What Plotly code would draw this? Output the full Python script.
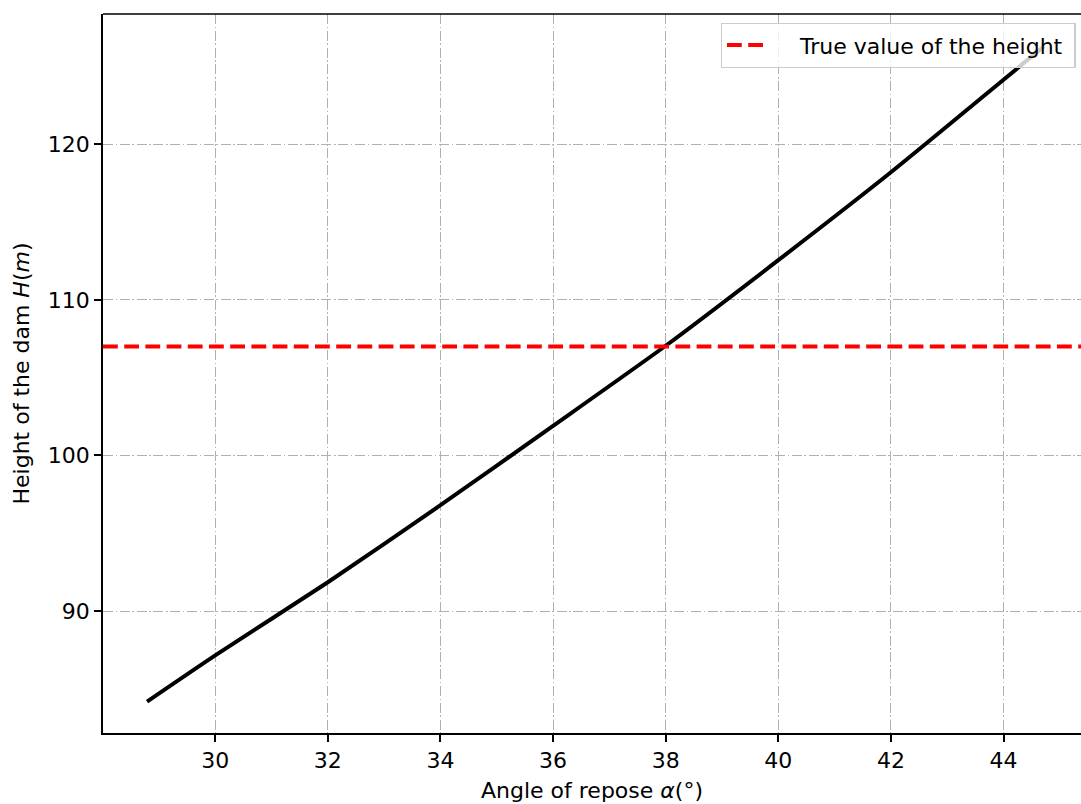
import plotly.graph_objects as go

# Data
alpha_deg = [28.79, 30.0, 32.0, 34.0, 36.0, 38.0, 40.0, 42.0, 44.0, 44.72]
height_m = [84.18, 87.15, 91.85, 96.8, 101.9, 107.05, 112.55, 118.2, 124.15, 126.3]
true_height = 107.0
x_ticks = [30, 32, 34, 36, 38, 40, 42, 44]
y_ticks = [90, 100, 110, 120]

W, H = 1081, 804
ML, MR, MT, MB = 103, 0, 14, 71
FONT = "DejaVu Sans"
FS = 22

fig = go.Figure()
fig.add_trace(go.Scatter(
    x=alpha_deg, y=height_m, mode="lines",
    line=dict(color="black", width=4, shape="spline", smoothing=0.6),
    showlegend=False, hoverinfo="skip",
))
fig.add_hline(
    y=true_height,
    line=dict(color="red", width=4, dash="14.8px,6.4px"),
    layer="above",
    showlegend=True,
    name="&nbsp;&nbsp;&nbsp;&nbsp;True value of the height&nbsp;",
)

grid = dict(showgrid=True, gridcolor="#b0b0b0", gridwidth=1.4,
            griddash="10px,2.6px,1.6px,2.6px")
fig.update_xaxes(
    range=[28.007, 45.376], tickvals=x_ticks, ticks="outside", ticklen=7,
    tickwidth=1.6, tickcolor="black", showline=True, linecolor="black",
    linewidth=1.6, zeroline=False,
    title=dict(text="Angle of repose <i>α</i>(°)", standoff=10,
               font=dict(size=FS, family=FONT, color="black")),
    tickfont=dict(size=FS, family=FONT, color="black"), **grid,
)
fig.update_yaxes(
    range=[82.158, 128.376], tickvals=y_ticks, ticks="outside", ticklen=7,
    tickwidth=1.6, tickcolor="black", showline=True, linecolor="black",
    linewidth=1.6, zeroline=False,
    title=dict(text="Height of the dam <i>H</i>(<i>m</i>)", standoff=12,
               font=dict(size=FS, family=FONT, color="black")),
    tickfont=dict(size=FS, family=FONT, color="black"), **grid,
)
# top spine
fig.add_shape(type="line", xref="paper", yref="paper", x0=0, x1=1, y0=1, y1=1,
              line=dict(color="black", width=1.6), layer="above")

plot_w = W - ML - MR
plot_h = H - MT - MB
fig.update_layout(
    width=W, height=H,
    margin=dict(l=ML, r=MR, t=MT, b=MB, pad=0),
    plot_bgcolor="white", paper_bgcolor="white",
    font=dict(family=FONT, size=FS, color="black"),
    legend=dict(
        x=(1075.7 - ML) / plot_w, xanchor="right",
        y=1 - (23 - MT) / plot_h, yanchor="top",
        bgcolor="rgba(255,255,255,0.8)", bordercolor="#cccccc", borderwidth=1.3,
        font=dict(size=FS, family=FONT, color="black"),
        itemwidth=40,
    ),
)
fig.write_html("out.html")
